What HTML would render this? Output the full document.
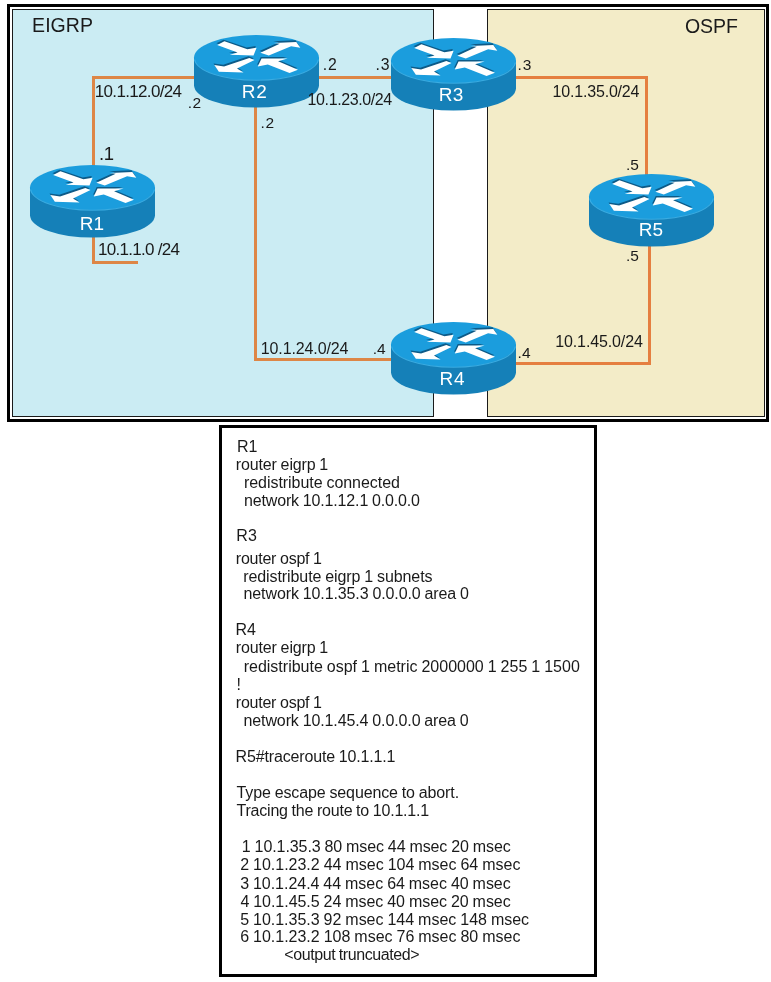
<!DOCTYPE html>
<html>
<head>
<meta charset="utf-8">
<title>EIGRP / OSPF redistribution</title>
<style>
html,body{margin:0;padding:0;background:#fff;}
body{width:771px;height:982px;position:relative;overflow:hidden;font-family:"Liberation Sans",sans-serif;color:#111;}
.abs{position:absolute;}
#frame{left:7px;top:4px;width:756px;height:412px;border:3px solid #000;background:#fff;}
#eigrp{left:12px;top:9px;width:420px;height:406px;border:1px solid #1a1a1a;background:#cbecf3;}
#ospf{left:487px;top:9px;width:276px;height:406px;border:1px solid #1a1a1a;background:#f3ecc8;}
.ln{position:absolute;background:#dd8646;}
.ln.y{background:#e57f40;}
.l{position:absolute;white-space:pre;line-height:20px;color:#1a1a1a;}
.rl{position:absolute;white-space:pre;line-height:20px;color:#fff;}
#box{left:219px;top:425px;width:371.5px;height:545.5px;border:3px solid #000;background:#fff;}
.t{position:absolute;white-space:pre;font-size:16px;line-height:18px;word-spacing:-0.45px;color:#1a1a1a;}
svg.r{position:absolute;width:127px;height:75px;overflow:visible;}
</style>
</head>
<body>
<svg width="0" height="0" style="position:absolute">
<defs>
<g id="arr">
  <polygon points="90,80 146,53 323,114 394,102 370,161 187,156 247,138"/>
  <polygon points="423,141 572,72 528,65 700,58 731,103 660,90 488,162"/>
  <polygon points="378,197 243,263 293,293 103,287 68,236 143,247 338,181"/>
  <polygon points="713,271 648,296 480,232 403,246 432,186 633,186 560,206"/>
</g>
<g id="router">
  <path d="M1,23.5 L1,51.2 A62.5,22.4 0 0 0 126,51.2 L126,23.5 Z" fill="#1580b8"/>
  <ellipse cx="63.5" cy="23.5" rx="62.5" ry="22.4" fill="#1b9ddd"/>
  <path d="M1.6,25.5 A62,22 0 0 0 125.4,25.5" fill="none" stroke="#45b8ee" stroke-width="1.2" opacity="0.75"/>
  <g transform="translate(12.5,0.5) scale(0.1297)">
    <use href="#arr" fill="#0d5a87" transform="translate(-6,-13)"/>
    <use href="#arr" fill="#fff"/>
  </g>
</g>
</defs>
</svg>

<div id="gs" style="position:absolute;left:0;top:0;width:771px;height:982px;will-change:transform">
<div id="frame" class="abs"></div>
<div id="eigrp" class="abs"></div>
<div id="ospf" class="abs"></div>
<div class="ln" style="left:92px;top:76px;width:103px;height:3px"></div>
<div class="ln" style="left:92px;top:76px;width:3px;height:91px"></div>
<div class="ln" style="left:92px;top:236px;width:3px;height:28px"></div>
<div class="ln" style="left:92px;top:261px;width:46px;height:3px"></div>
<div class="ln" style="left:316px;top:76px;width:77px;height:3px"></div>
<div class="ln" style="left:254px;top:104px;width:3px;height:257px"></div>
<div class="ln" style="left:254px;top:358px;width:139px;height:3px"></div>
<div class="ln y" style="left:513px;top:76px;width:135px;height:3px"></div>
<div class="ln y" style="left:645px;top:76px;width:3px;height:99px"></div>
<div class="ln y" style="left:648px;top:244px;width:3px;height:121px"></div>
<div class="ln y" style="left:513px;top:362px;width:138px;height:3px"></div>
<svg class="r" style="left:192.6px;top:33.5px" viewBox="0 0 127 75"><use href="#router"/></svg>
<svg class="r" style="left:389.6px;top:37.1px" viewBox="0 0 127 75"><use href="#router"/></svg>
<svg class="r" style="left:28.5px;top:164.1px" viewBox="0 0 127 75"><use href="#router"/></svg>
<svg class="r" style="left:389.6px;top:320.9px" viewBox="0 0 127 75"><use href="#router"/></svg>
<svg class="r" style="left:587.6px;top:172.5px" viewBox="0 0 127 75"><use href="#router"/></svg>
<div id="box" class="abs"></div>
<div class="t" style="left:237.05px;top:437.66px;letter-spacing:0.000px">R1</div>
<div class="t" style="left:235.80px;top:455.56px;letter-spacing:-0.138px">router eigrp 1</div>
<div class="t" style="left:244.00px;top:473.56px;letter-spacing:-0.052px">redistribute connected</div>
<div class="t" style="left:244.00px;top:491.76px;letter-spacing:-0.154px">network 10.1.12.1 0.0.0.0</div>
<div class="t" style="left:236.35px;top:527.46px;letter-spacing:0.000px">R3</div>
<div class="t" style="left:235.80px;top:549.86px;letter-spacing:-0.229px">router ospf 1</div>
<div class="t" style="left:243.20px;top:567.56px;letter-spacing:-0.085px">redistribute eigrp 1 subnets</div>
<div class="t" style="left:243.50px;top:585.26px;letter-spacing:-0.103px">network 10.1.35.3 0.0.0.0 area 0</div>
<div class="t" style="left:235.55px;top:621.16px;letter-spacing:0.000px">R4</div>
<div class="t" style="left:235.80px;top:639.46px;letter-spacing:-0.138px">router eigrp 1</div>
<div class="t" style="left:243.70px;top:657.66px;letter-spacing:-0.002px">redistribute ospf 1 metric 2000000 1 255 1 1500</div>
<div class="t" style="left:236.50px;top:675.66px;letter-spacing:0.000px">!</div>
<div class="t" style="left:235.80px;top:693.96px;letter-spacing:-0.229px">router ospf 1</div>
<div class="t" style="left:243.50px;top:711.66px;letter-spacing:-0.110px">network 10.1.45.4 0.0.0.0 area 0</div>
<div class="t" style="left:235.55px;top:748.06px;letter-spacing:-0.155px">R5#traceroute 10.1.1.1</div>
<div class="t" style="left:236.55px;top:784.26px;letter-spacing:-0.116px">Type escape sequence to abort.</div>
<div class="t" style="left:236.55px;top:801.96px;letter-spacing:-0.216px">Tracing the route to 10.1.1.1</div>
<div class="t" style="left:241.85px;top:838.16px;letter-spacing:-0.082px">1 10.1.35.3 80 msec 44 msec 20 msec</div>
<div class="t" style="left:240.15px;top:856.46px;letter-spacing:-0.007px">2 10.1.23.2 44 msec 104 msec 64 msec</div>
<div class="t" style="left:240.15px;top:874.56px;letter-spacing:-0.032px">3 10.1.24.4 44 msec 64 msec 40 msec</div>
<div class="t" style="left:240.45px;top:892.66px;letter-spacing:-0.041px">4 10.1.45.5 24 msec 40 msec 20 msec</div>
<div class="t" style="left:240.15px;top:910.56px;letter-spacing:-0.015px">5 10.1.35.3 92 msec 144 msec 148 msec</div>
<div class="t" style="left:240.15px;top:928.46px;letter-spacing:-0.007px">6 10.1.23.2 108 msec 76 msec 80 msec</div>
<div class="t" style="left:284.25px;top:946.16px;letter-spacing:-0.414px">&lt;output truncuated&gt;</div>
<div class="l" style="left:32.10px;top:15.44px;letter-spacing:0.037px;font-size:19.5px">EIGRP</div>
<div class="l" style="left:684.90px;top:16.04px;letter-spacing:0.017px;font-size:19.5px">OSPF</div>
<div class="l" style="left:94.75px;top:82.01px;letter-spacing:-0.659px;font-size:17px">10.1.12.0/24</div>
<div class="l" style="left:98.05px;top:239.71px;letter-spacing:-0.718px;font-size:17px">10.1.1.0 /24</div>
<div class="l" style="left:307.55px;top:90.36px;letter-spacing:-0.386px;font-size:16px">10.1.23.0/24</div>
<div class="l" style="left:260.75px;top:339.16px;letter-spacing:-0.114px;font-size:16px">10.1.24.0/24</div>
<div class="l" style="left:552.55px;top:82.16px;letter-spacing:-0.186px;font-size:16px">10.1.35.0/24</div>
<div class="l" style="left:555.25px;top:332.36px;letter-spacing:-0.123px;font-size:16px">10.1.45.0/24</div>
<div class="l" style="left:187.70px;top:92.53px;letter-spacing:0.550px;font-size:15.5px">.2</div>
<div class="l" style="left:99.05px;top:143.69px;letter-spacing:-0.400px;font-size:18.5px">.1</div>
<div class="l" style="left:322.70px;top:54.53px;letter-spacing:0.800px;font-size:15.8px">.2</div>
<div class="l" style="left:375.50px;top:54.53px;letter-spacing:0.800px;font-size:15.8px">.3</div>
<div class="l" style="left:260.50px;top:113.03px;letter-spacing:0.750px;font-size:15.5px">.2</div>
<div class="l" style="left:372.70px;top:338.53px;letter-spacing:0.000px;font-size:15.5px">.4</div>
<div class="l" style="left:517.60px;top:54.93px;letter-spacing:0.800px;font-size:15.5px">.3</div>
<div class="l" style="left:625.90px;top:155.13px;letter-spacing:0.050px;font-size:15.5px">.5</div>
<div class="l" style="left:625.90px;top:245.53px;letter-spacing:0.050px;font-size:15.5px">.5</div>
<div class="l" style="left:517.60px;top:343.13px;letter-spacing:0.200px;font-size:15.5px">.4</div>
<div class="rl" style="left:241.70px;top:81.82px;letter-spacing:0.800px;font-size:19px">R2</div>
<div class="rl" style="left:438.70px;top:85.32px;letter-spacing:0.300px;font-size:19px">R3</div>
<div class="rl" style="left:79.80px;top:213.92px;letter-spacing:0.100px;font-size:19px">R1</div>
<div class="rl" style="left:439.50px;top:369.02px;letter-spacing:0.750px;font-size:19px">R4</div>
<div class="rl" style="left:638.70px;top:220.02px;letter-spacing:0.000px;font-size:19px">R5</div>
</div>
</body>
</html>
